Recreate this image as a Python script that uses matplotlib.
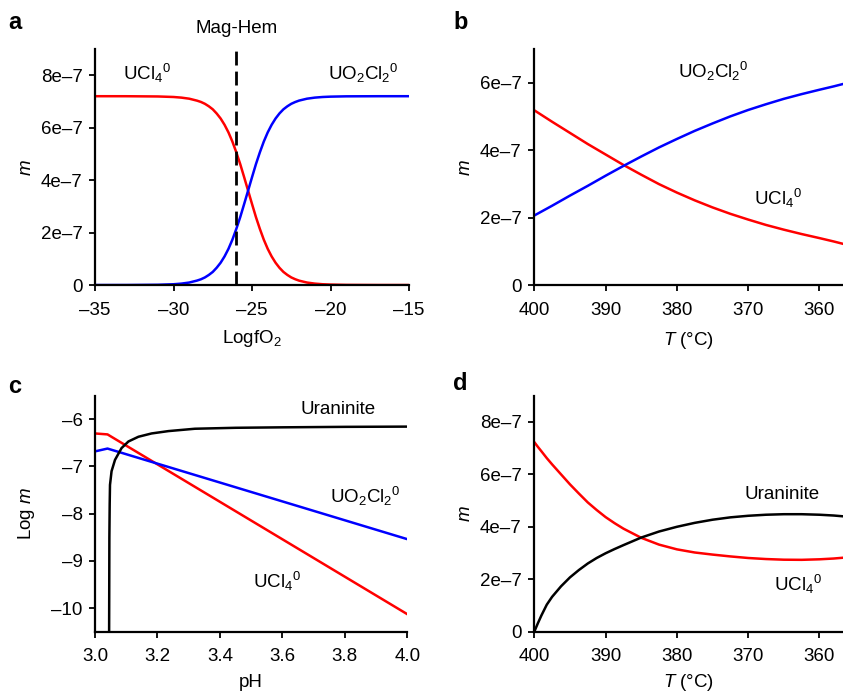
import matplotlib
matplotlib.use("Agg")
import matplotlib.pyplot as plt

plt.rcParams['font.family'] = ['Liberation Sans', 'DejaVu Sans']
plt.rcParams['mathtext.fontset'] = 'custom'
plt.rcParams['mathtext.rm'] = 'Liberation Sans'
plt.rcParams['mathtext.it'] = 'Liberation Sans:italic'
plt.rcParams['mathtext.default'] = 'regular'
plt.rcParams['lines.solid_joinstyle'] = 'round'

FS = 13.5

# ----- panel a: m vs LogfO2 (values in 1e-7) -----
fo2 = [-35, -33, -31, -30, -29.5, -29, -28.5, -28.25, -28, -27.75, -27.5, -27.25,
       -27, -26.75, -26.5, -26.25, -26, -25.75, -25.5, -25.25, -25, -24.75, -24.5,
       -24.25, -24, -23.75, -23.5, -23.25, -23, -22.75, -22.5, -22.25, -22, -21.5,
       -21, -20.5, -20, -19, -17, -15]
a_ucl4 = [7.2, 7.199, 7.19, 7.17, 7.146, 7.105, 7.03, 6.98, 6.91, 6.815, 6.70, 6.54,
          6.35, 6.11, 5.82, 5.47, 5.06, 4.61, 4.11, 3.6, 3.09, 2.59, 2.14,
          1.73, 1.38, 1.09, 0.85, 0.656, 0.50, 0.385, 0.29, 0.222, 0.167, 0.095,
          0.054, 0.03, 0.017, 0.005, 0.0005, 0]
a_uo2cl2 = [0, 0.001, 0.01, 0.03, 0.054, 0.095, 0.17, 0.22, 0.29, 0.385, 0.50, 0.66,
            0.85, 1.09, 1.38, 1.73, 2.14, 2.59, 3.09, 3.6, 4.11, 4.61, 5.06,
            5.47, 5.82, 6.11, 6.35, 6.544, 6.70, 6.815, 6.91, 6.978, 7.033, 7.105,
            7.146, 7.17, 7.183, 7.195, 7.1995, 7.2]
mag_hem = -26.0

# ----- panel b: m vs T -----
b_T = [400, 397.5, 395, 392.5, 390, 387.5, 385, 382.5, 380, 377.5, 375, 372.5,
       370, 367.5, 365, 362.5, 360, 358, 356.7]
b_uo2cl2 = [2.07, 2.36, 2.66, 2.95, 3.25, 3.54, 3.82, 4.09, 4.34, 4.58, 4.80, 5.01,
            5.20, 5.37, 5.53, 5.67, 5.80, 5.90, 5.97]
b_ucl4 = [5.19, 4.85, 4.52, 4.19, 3.88, 3.57, 3.28, 3.0, 2.75, 2.52, 2.31, 2.12,
          1.95, 1.79, 1.65, 1.52, 1.40, 1.30, 1.23]

# ----- panel c: Log m vs pH -----
c_ph = [3.0, 3.04, 4.0]
c_ucl4 = [-6.30, -6.32, -10.13]
c_uo2cl2 = [-6.68, -6.62, -8.54]
c_ph_ur = [3.045, 3.046, 3.047, 3.048, 3.053, 3.064, 3.085, 3.107, 3.139, 3.181,
           3.235, 3.32, 3.45, 3.6, 3.8, 4.0]
c_uraninite = [-11, -8.5, -7.8, -7.39, -7.1, -6.86, -6.61, -6.47, -6.37, -6.30,
               -6.25, -6.20, -6.18, -6.17, -6.16, -6.155]

# ----- panel d: m vs T -----
d_T = [400, 399.5, 399, 398.25, 397.5, 396.25, 395, 393.75, 392.5, 391.25, 390,
       388.75, 387.5, 385, 382.5, 380, 377.5, 375, 372.5, 370, 367.5, 365, 362.5,
       360, 358, 356.7]
d_uraninite = [0, 0.32, 0.62, 1.03, 1.33, 1.73, 2.07, 2.35, 2.6, 2.81, 2.99,
               3.15, 3.3, 3.59, 3.82, 4.0, 4.15, 4.27, 4.36, 4.42, 4.46, 4.48, 4.48,
               4.46, 4.43, 4.40]
d_ucl4 = [7.23, 7.05, 6.88, 6.62, 6.38, 6.0, 5.62, 5.27, 4.93, 4.64, 4.37,
          4.14, 3.93, 3.58, 3.32, 3.14, 3.02, 2.94, 2.87, 2.81, 2.77, 2.745, 2.74,
          2.76, 2.79, 2.82]

m_ticks = [0, 2, 4, 6, 8]
m_labels = ['0', '2e\u20137', '4e\u20137', '6e\u20137', '8e\u20137']
fo2_ticks = [-35, -30, -25, -20, -15]
fo2_labels = ['\u201335', '\u201330', '\u201325', '\u201320', '\u201315']
T_ticks = [400, 390, 380, 370, 360]
ph_ticks = [3.0, 3.2, 3.4, 3.6, 3.8, 4.0]
logm_ticks = [-6, -7, -8, -9, -10]
logm_labels = ['\u20136', '\u20137', '\u20138', '\u20139', '\u201310']

UCL4 = 'UCl$_4$$^0$'
UO2CL2 = 'UO$_2$Cl$_2$$^0$'
RED = '#ff0000'
BLUE = '#0000ff'
LW = 1.8
sc = 1e-7


def style(ax):
    for s in ['top', 'right']:
        ax.spines[s].set_visible(False)
    for s in ['left', 'bottom']:
        ax.spines[s].set_linewidth(1.6)
    ax.tick_params(direction='out', length=4, width=1.3, labelsize=FS)
    ax.tick_params(axis='x', pad=8)
    ax.tick_params(axis='y', pad=5)


fig = plt.figure(figsize=(8.43, 6.93), dpi=100)

# a
ax = fig.add_axes([0.1127, 0.5887, 0.3725, 0.3406])
style(ax)
ax.plot(fo2, [v * sc for v in a_ucl4], color=RED, lw=LW)
ax.plot(fo2, [v * sc for v in a_uo2cl2], color=BLUE, lw=LW)
ax.plot([mag_hem, mag_hem], [0, 9.1e-7], color='black', lw=2.0,
        dashes=(5, 2.2), clip_on=False)
ax.set_xlim(-35, -15)
ax.set_ylim(0, 9e-7)
ax.set_xticks(fo2_ticks, fo2_labels)
ax.set_yticks([t * sc for t in m_ticks], m_labels)
ax.set_xlabel('LogfO$_2$', fontsize=FS, labelpad=7)
ax.set_ylabel('m', style='italic', fontsize=FS, labelpad=4.5)
ax.text(-31.7, 8.08e-7, UCL4, ha='center', va='center', fontsize=FS)
ax.text(-17.9, 8.08e-7, UO2CL2, ha='center', va='center', fontsize=FS)
ax.text(mag_hem, 1.085, 'Mag-Hem', transform=ax.get_xaxis_transform(),
        ha='center', va='center', fontsize=FS)

# b
ax = fig.add_axes([0.6338, 0.5883, 0.3662, 0.3406])
style(ax)
ax.plot(b_T, [v * sc for v in b_ucl4], color=RED, lw=LW)
ax.plot(b_T, [v * sc for v in b_uo2cl2], color=BLUE, lw=LW)
ax.set_xlim(400, 356.7)
ax.set_ylim(0, 7e-7)
ax.set_xticks(T_ticks, [str(t) for t in T_ticks])
ax.set_yticks([t * sc for t in m_ticks[:4]], m_labels[:4])
ax.set_xlabel('$\\mathit{T}$ (\u00b0C)', fontsize=FS, labelpad=8)
ax.set_ylabel('m', style='italic', fontsize=FS, labelpad=4.5)
ax.text(374.9, 6.34e-7, UO2CL2, ha='center', va='center', fontsize=FS)
ax.text(365.8, 2.59e-7, UCL4, ha='center', va='center', fontsize=FS)

# c
ax = fig.add_axes([0.1127, 0.0885, 0.3705, 0.3405])
style(ax)
ax.plot(c_ph, c_ucl4, color=RED, lw=LW)
ax.plot(c_ph, c_uo2cl2, color=BLUE, lw=LW)
ax.plot(c_ph_ur, c_uraninite, color='black', lw=LW)
ax.set_xlim(3.0, 4.0)
ax.set_ylim(-10.5, -5.5)
ax.set_xticks(ph_ticks, ['%.1f' % t for t in ph_ticks])
ax.set_yticks(logm_ticks, logm_labels)
ax.set_xlabel('pH', fontsize=FS, labelpad=6)
ax.set_ylabel('Log $\\mathit{m}$', fontsize=FS, labelpad=10)
ax.text(3.779, -5.79, 'Uraninite', ha='center', va='center', fontsize=FS)
ax.text(3.865, -7.64, UO2CL2, ha='center', va='center', fontsize=FS)
ax.text(3.582, -9.44, UCL4, ha='center', va='center', fontsize=FS)

# d
ax = fig.add_axes([0.6338, 0.0885, 0.3662, 0.3405])
style(ax)
ax.plot(d_T, [v * sc for v in d_ucl4], color=RED, lw=LW)
ax.plot(d_T, [v * sc for v in d_uraninite], color='black', lw=LW)
ax.set_xlim(400, 356.7)
ax.set_ylim(0, 9e-7)
ax.set_xticks(T_ticks, [str(t) for t in T_ticks])
ax.set_yticks([t * sc for t in m_ticks], m_labels)
ax.set_xlabel('$\\mathit{T}$ (\u00b0C)', fontsize=FS, labelpad=5)
ax.set_ylabel('m', style='italic', fontsize=FS, labelpad=4.5)
ax.text(365.3, 5.23e-7, 'Uraninite', ha='center', va='center', fontsize=FS)
ax.text(363.0, 1.79e-7, UCL4, ha='center', va='center', fontsize=FS)

for lab, x, y in [('a', 0.018, 0.968), ('b', 0.546, 0.968),
                  ('c', 0.018, 0.443), ('d', 0.546, 0.447)]:
    fig.text(x, y, lab, fontsize=17, fontweight='bold', ha='center', va='center')

fig.savefig('out.png', dpi=100)
